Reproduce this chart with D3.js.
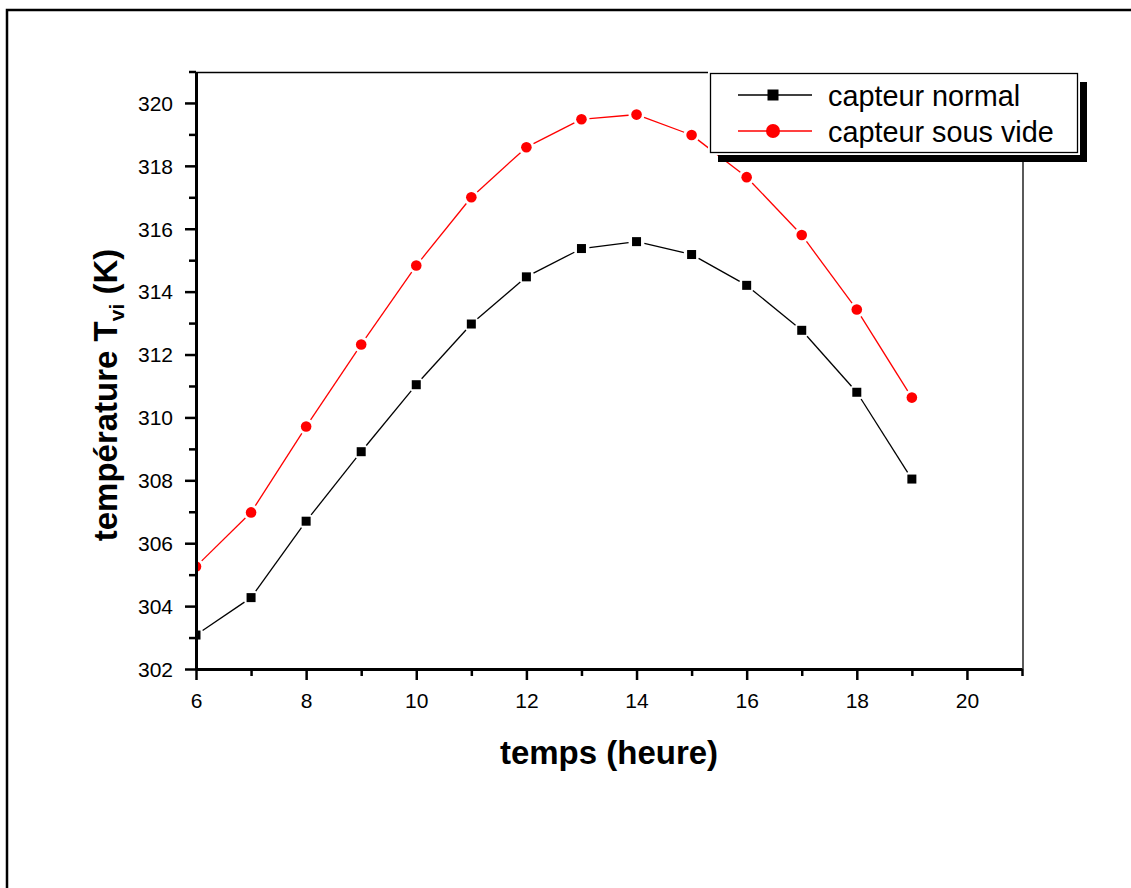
<!DOCTYPE html>
<html>
<head>
<meta charset="utf-8">
<script src="https://cdn.jsdelivr.net/npm/d3@7"></script>
<style>
  html, body { margin: 0; padding: 0; background: #fff; }
  svg { display: block; font-family: "Liberation Sans", Arial, sans-serif; }
</style>
</head>
<body>
<svg id="chart" width="1131" height="888"></svg>
<script>
// Heure de la journée et température Tvi (K) des deux capteurs
const hours = [6, 7, 8, 9, 10, 11, 12, 13, 14, 15, 16, 17, 18, 19];
const capteurNormal = [303.08, 304.27, 306.70, 308.91, 311.04, 312.97, 314.47, 315.37, 315.59, 315.18, 314.20, 312.77, 310.80, 308.04];
const capteurSousVide = [305.26, 306.98, 309.71, 312.32, 314.83, 317.00, 318.59, 319.48, 319.63, 318.98, 317.64, 315.80, 313.43, 310.63];
const seriesNames = ["capteur normal", "capteur sous vide"];
const seriesColors = ["#000000", "#ff0000"];

const xMajorTicks = [6, 8, 10, 12, 14, 16, 18, 20];
const xMinorTicks = [7, 9, 11, 13, 15, 17, 19, 21];
const yMajorTicks = [302, 304, 306, 308, 310, 312, 314, 316, 318, 320];
const yMinorTicks = [303, 305, 307, 309, 311, 313, 315, 317, 319, 321];
const xDomain = [6, 21];
const yDomain = [302, 321];

const svg = d3.select("#chart");

// cadre extérieur
svg.append("rect")
  .attr("x", 7).attr("y", 10)
  .attr("width", 1300).attr("height", 1000)
  .attr("fill", "none").attr("stroke", "#000").attr("stroke-width", 2.5);

const x = d3.scaleLinear().domain(xDomain).range([196, 1022]);
const y = d3.scaleLinear().domain(yDomain).range([669, 71.5]);

// cadre du graphe (haut et droite, trait fin)
svg.append("line")
  .attr("x1", x(xDomain[0])).attr("x2", x(xDomain[1]))
  .attr("y1", y(yDomain[1]) + 1).attr("y2", y(yDomain[1]) + 1)
  .attr("stroke", "#000").attr("stroke-width", 1.3);
svg.append("line")
  .attr("x1", x(xDomain[1]) + 1).attr("x2", x(xDomain[1]) + 1)
  .attr("y1", y(yDomain[1]) + 1).attr("y2", y(yDomain[0]))
  .attr("stroke", "#000").attr("stroke-width", 1.3);

// zone de tracé
svg.append("clipPath").attr("id", "plotClip")
  .append("rect")
  .attr("x", x(xDomain[0])).attr("y", y(yDomain[1]))
  .attr("width", x(xDomain[1]) - x(xDomain[0]))
  .attr("height", y(yDomain[0]) - y(yDomain[1]));

const plot = svg.append("g").attr("clip-path", "url(#plotClip)");

const series = [
  { name: seriesNames[0], values: capteurNormal, color: seriesColors[0], shape: "square" },
  { name: seriesNames[1], values: capteurSousVide, color: seriesColors[1], shape: "circle" }
];

// segments reliant les points, interrompus autour des symboles
const gap = 8;
series.forEach(s => {
  const pts = hours.map((h, i) => [x(h), y(s.values[i])]);
  const segs = d3.pairs(pts).map(([a, b]) => {
    const dx = b[0] - a[0], dy = b[1] - a[1];
    const len = Math.hypot(dx, dy);
    const ux = dx / len, uy = dy / len;
    return [a[0] + ux * gap, a[1] + uy * gap, b[0] - ux * gap, b[1] - uy * gap];
  });
  plot.append("g").selectAll("line").data(segs).join("line")
    .attr("x1", d => d[0]).attr("y1", d => d[1])
    .attr("x2", d => d[2]).attr("y2", d => d[3])
    .attr("stroke", s.color).attr("stroke-width", 1.3);

  const g = plot.append("g");
  if (s.shape === "square") {
    g.selectAll("rect").data(hours).join("rect")
      .attr("x", (h) => x(h) - 4.5)
      .attr("y", (h, i) => y(s.values[i]) - 4.5)
      .attr("width", 9).attr("height", 9)
      .attr("fill", s.color);
  } else {
    g.selectAll("circle").data(hours).join("circle")
      .attr("cx", h => x(h))
      .attr("cy", (h, i) => y(s.values[i]))
      .attr("r", 5.3)
      .attr("fill", s.color);
  }
});

// axes
function styleAxis(g, width) {
  g.selectAll(".domain").attr("stroke", "#000").attr("stroke-width", width);
  g.selectAll(".tick line").attr("stroke", "#000").attr("stroke-width", 2.5);
  g.selectAll(".tick text").attr("fill", "#000")
    .style("font-family", '"Liberation Sans", Arial, sans-serif')
    .style("font-size", "21px");
}

const xMinor = svg.append("g").attr("transform", `translate(0,${y(yDomain[0])})`)
  .call(d3.axisBottom(x).tickValues(xMinorTicks).tickSize(7).tickSizeOuter(0).tickFormat(""));
xMinor.select(".domain").remove();
styleAxis(xMinor, 3);

const yMinor = svg.append("g").attr("transform", `translate(${x(xDomain[0])},0)`)
  .call(d3.axisLeft(y).tickValues(yMinorTicks).tickSize(7).tickSizeOuter(0).tickFormat(""));
yMinor.select(".domain").remove();
styleAxis(yMinor, 3);

const xAxis = svg.append("g").attr("transform", `translate(0,${y(yDomain[0])})`)
  .call(d3.axisBottom(x).tickValues(xMajorTicks).tickSize(11).tickSizeOuter(0).tickPadding(13).tickFormat(d3.format("d")));
styleAxis(xAxis, 3);

const yAxis = svg.append("g").attr("transform", `translate(${x(xDomain[0])},0)`)
  .call(d3.axisLeft(y).tickValues(yMajorTicks).tickSize(11).tickSizeOuter(0).tickPadding(12).tickFormat(d3.format("d")));
styleAxis(yAxis, 3);
yAxis.selectAll(".tick text").attr("dy", "0.35em");

// titres des axes
svg.append("text")
  .attr("x", 609).attr("y", 764)
  .attr("text-anchor", "middle")
  .style("font-size", "33px").style("font-weight", "bold")
  .text("temps (heure)");

const yTitle = svg.append("text")
  .attr("transform", "translate(117,395) rotate(-90)")
  .attr("text-anchor", "middle")
  .style("font-size", "33px").style("font-weight", "bold");
yTitle.append("tspan").text("température T");
yTitle.append("tspan").attr("dy", 7).style("font-size", "21px").text("vi");
yTitle.append("tspan").attr("dy", -7).text(" (K)");

// légende avec ombre
const lg = svg.append("g");
lg.append("rect").attr("x", 718).attr("y", 82).attr("width", 369).attr("height", 80).attr("fill", "#000");
lg.append("rect").attr("x", 708).attr("y", 71).attr("width", 372).attr("height", 84).attr("fill", "#fff");
lg.append("rect").attr("x", 710.5).attr("y", 73.5).attr("width", 367).attr("height", 79)
  .attr("fill", "#fff").attr("stroke", "#000").attr("stroke-width", 1.3);

const rowY = [95, 131];
series.forEach((s, i) => {
  const row = lg.append("g");
  row.append("line").attr("x1", 738).attr("x2", 812).attr("y1", rowY[i]).attr("y2", rowY[i])
    .attr("stroke", s.color).attr("stroke-width", 1.3);
  if (s.shape === "square") {
    row.append("rect").attr("x", 773 - 5.5).attr("y", rowY[i] - 5.5).attr("width", 11).attr("height", 11).attr("fill", s.color);
  } else {
    row.append("circle").attr("cx", 773).attr("cy", rowY[i]).attr("r", 7).attr("fill", s.color);
  }
  row.append("text").attr("x", 828).attr("y", rowY[i] + 11)
    .style("font-size", "28.8px").attr("fill", "#000").text(s.name);
});
</script>
</body>
</html>
